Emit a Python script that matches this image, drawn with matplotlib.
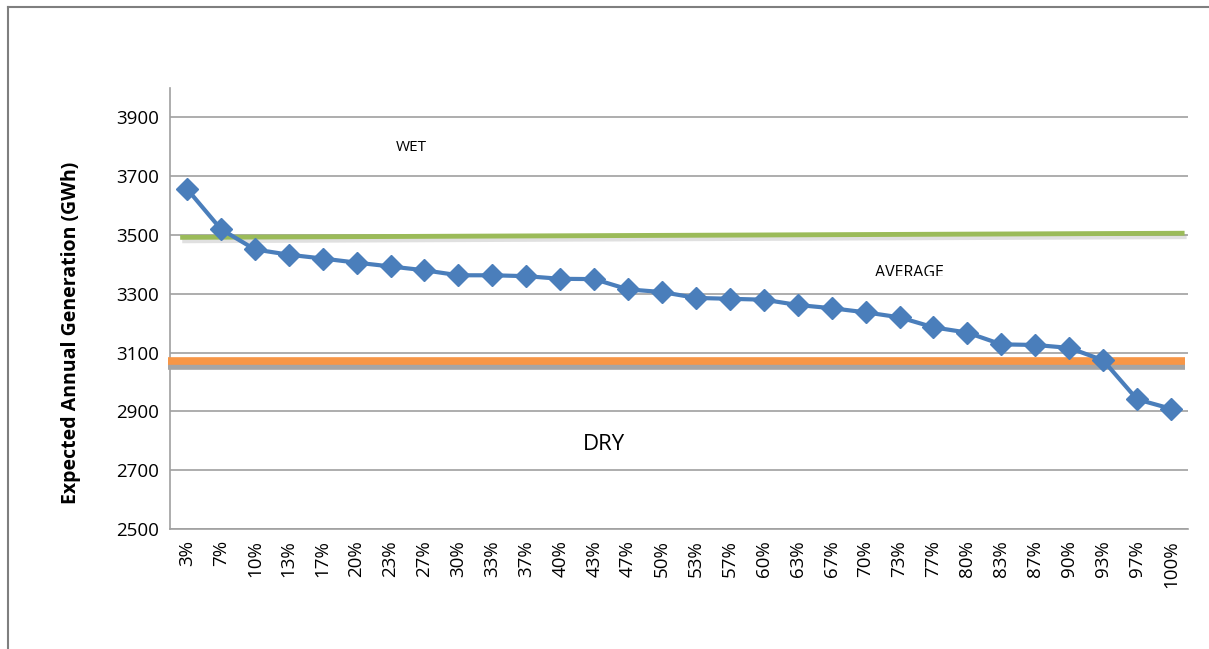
import matplotlib.pyplot as plt
import matplotlib.patheffects as pe
from matplotlib.lines import Line2D
from matplotlib.transforms import Bbox, TransformedBbox

# exceedance probability categories
categories = ["3%", "7%", "10%", "13%", "17%", "20%", "23%", "27%", "30%", "33%",
              "37%", "40%", "43%", "47%", "50%", "53%", "57%", "60%", "63%", "67%",
              "70%", "73%", "77%", "80%", "83%", "87%", "90%", "93%", "97%", "100%"]
generation = [3657, 3520, 3451, 3433, 3420, 3406, 3393, 3380, 3363, 3363,
              3360, 3351, 3350, 3315, 3306, 3286, 3283, 3280, 3262, 3251,
              3237, 3220, 3186, 3168, 3128, 3126, 3116, 3074, 2941, 2909]

# hand drawn boundary lines (start / end values)
wet_line = [3492, 3506]
dry_line = [3072, 3072]

yticks = [2500, 2700, 2900, 3100, 3300, 3500, 3700, 3900]

plt.rcParams['font.family'] = ['Open Sans', 'DejaVu Sans']

fig = plt.figure(figsize=(12.09, 6.49), dpi=100)
ax = fig.add_axes([0.1406, 0.1849, 0.842, 0.6795])

x = list(range(len(categories)))

ax.set_ylim(2500, 4000)
ax.set_xlim(-0.5, len(categories) - 0.5)
ax.set_yticks(yticks)
ax.set_xticks(x)
ax.set_xticklabels(categories, rotation=90, fontsize=13.5)
ax.tick_params(axis='y', labelsize=13.5, length=0, pad=8)
ax.tick_params(axis='x', length=0, pad=8)
ax.grid(axis='y', color='#a0a0a0', linewidth=1.2)
ax.set_axisbelow(True)
for s in ['top', 'right']:
    ax.spines[s].set_visible(False)
ax.spines['left'].set_color('#a0a0a0')
ax.spines['bottom'].set_color('#a0a0a0')
ax.spines['left'].set_linewidth(1.2)
ax.spines['bottom'].set_linewidth(1.2)

# green (wet/average boundary) with a soft shadow
ax.plot([-0.2, len(categories) - 0.6], wet_line, color='#9bbb59', linewidth=3.5,
        solid_capstyle='butt', zorder=3,
        path_effects=[pe.SimpleLineShadow(offset=(1.5, -2.5), shadow_color='#999999', alpha=0.3),
                      pe.Normal()])

# orange (average/dry boundary) with gray shadow
ax.plot([-0.55, len(categories) - 0.6], dry_line, color='#f79646', linewidth=5.5,
        solid_capstyle='butt', zorder=3, clip_on=False,
        path_effects=[pe.SimpleLineShadow(offset=(0, -4), shadow_color='#a5a5a5', alpha=1.0),
                      pe.Normal()])

ax.plot(x, generation, color='#4a7ebb', linewidth=3, marker='D', markersize=11,
        zorder=4)

ax.text(6.6, 3796, "WET", fontsize=11, ha='center', va='center')
avg = ax.text(21.3, 3372, "AVERAGE", fontsize=11.5, ha='center', va='center')
clip = Bbox([[0, (649 - 276) / 649], [1, 1]])
avg.set_clip_box(TransformedBbox(clip, fig.transFigure))
avg.set_clip_on(True)
ax.text(12.3, 2787, "DRY", fontsize=16, ha='center', va='center')

ax.set_ylabel("Expected Annual Generation (GWh)", fontsize=14, fontweight='bold')
ax.yaxis.set_label_coords(-0.087, 0.444)

# outer frame (left and top edges)
fig.add_artist(Line2D([0.0066, 0.0066], [0, 0.989], transform=fig.transFigure,
                      color='#7f7f7f', linewidth=1.5))
fig.add_artist(Line2D([0.0066, 1], [0.989, 0.989], transform=fig.transFigure,
                      color='#7f7f7f', linewidth=1.5))

fig.savefig("out.png", dpi=100)
